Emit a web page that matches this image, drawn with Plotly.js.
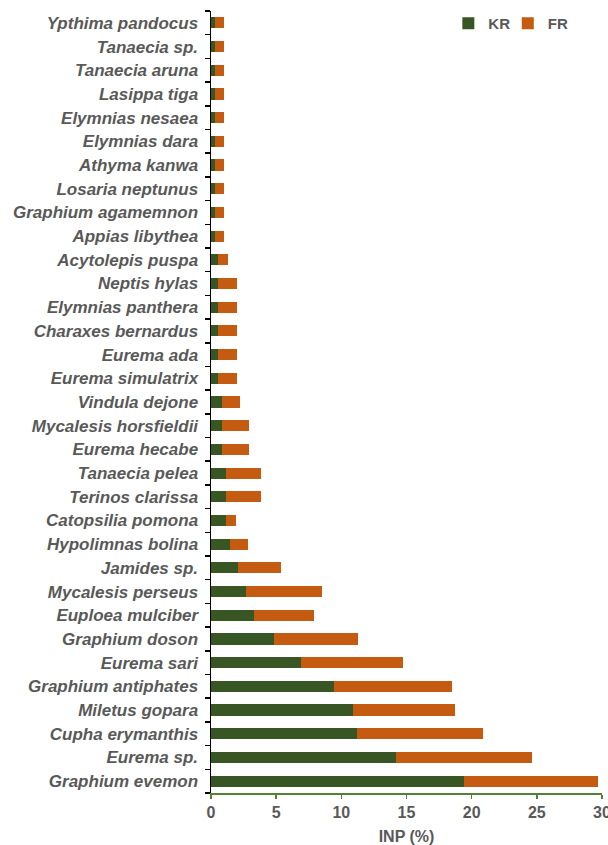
<!DOCTYPE html>
<html>
<head>
<meta charset="utf-8">
<script src="https://cdn.plot.ly/plotly-3.0.1.min.js"></script>
<style>html,body{margin:0;padding:0;background:#fff;}#chart{width:608px;height:845px;}</style>
</head>
<body>
<div id="chart"></div>
<script>
// Categories listed from bottom to top
const species = [
  "Graphium evemon", "Eurema sp.", "Cupha erymanthis", "Miletus gopara",
  "Graphium antiphates", "Eurema sari", "Graphium doson", "Euploea mulciber",
  "Mycalesis perseus", "Jamides sp.", "Hypolimnas bolina", "Catopsilia pomona",
  "Terinos clarissa", "Tanaecia pelea", "Eurema hecabe", "Mycalesis horsfieldii",
  "Vindula dejone", "Eurema simulatrix", "Eurema ada", "Charaxes bernardus",
  "Elymnias panthera", "Neptis hylas", "Acytolepis puspa", "Appias libythea",
  "Graphium agamemnon", "Losaria neptunus", "Athyma kanwa", "Elymnias dara",
  "Elymnias nesaea", "Lasippa tiga", "Tanaecia aruna", "Tanaecia sp.",
  "Ypthima pandocus"
];
const KR = [
  19.4, 14.2, 11.2, 10.9, 9.4, 6.9, 4.8, 3.3, 2.65, 2.05, 1.48, 1.17,
  1.17, 1.17, 0.84, 0.84, 0.84, 0.56, 0.56, 0.56, 0.56, 0.56, 0.56, 0.28,
  0.28, 0.28, 0.28, 0.28, 0.28, 0.28, 0.28, 0.28, 0.28
];
const FR = [
  10.3, 10.4, 9.7, 7.8, 9.1, 7.8, 6.5, 4.6, 5.9, 3.3, 1.36, 0.72,
  2.67, 2.67, 2.05, 2.05, 1.36, 1.41, 1.41, 1.41, 1.41, 1.41, 0.72, 0.69,
  0.69, 0.69, 0.69, 0.69, 0.69, 0.69, 0.69, 0.69, 0.69
];
const seriesNames = ["KR", "FR"];
const xTicks = [0, 5, 10, 15, 20, 25, 30];

const FONT = "Liberation Sans, Arial, sans-serif";
const traces = [
  {type: "bar", orientation: "h", name: seriesNames[0], y: species, x: KR,
   marker: {color: "#375623"}, legend: "legend"},
  {type: "bar", orientation: "h", name: seriesNames[1], y: species, x: FR,
   marker: {color: "#C55A11"}, legend: "legend2"}
];

const legendFont = {family: FONT, size: 15, color: "#595959", weight: "bold"};
const layout = {
  width: 608, height: 845,
  margin: {l: 211, r: 6, t: 11, b: 52, autoexpand: false},
  barmode: "stack",
  bargap: 0.53,
  paper_bgcolor: "#ffffff",
  plot_bgcolor: "#ffffff",
  showlegend: true,
  legend: {
    orientation: "h", x: 0.607, y: 1.005, xanchor: "left", yanchor: "top",
    font: legendFont, itemsizing: "constant", bgcolor: "rgba(0,0,0,0)"
  },
  legend2: {
    orientation: "h", x: 0.759, y: 1.005, xanchor: "left", yanchor: "top",
    font: legendFont, itemsizing: "constant", bgcolor: "rgba(0,0,0,0)"
  },
  xaxis: {
    range: [0, 30], tickvals: xTicks, ticktext: xTicks.map(String),
    automargin: false,
    showgrid: false, zeroline: false,
    showline: true, linecolor: "#548235", linewidth: 2,
    ticks: "outside", ticklen: 4, tickwidth: 1.5, tickcolor: "#548235",
    ticklabeloverflow: "allow", ticklabelstandoff: 0,
    tickfont: {family: FONT, size: 16, color: "#595959", weight: "bold"},
    title: {text: "INP (%)", standoff: 12,
      font: {family: FONT, size: 16, color: "#595959", weight: "bold"}},
    fixedrange: true
  },
  yaxis: {
    type: "category", categoryorder: "array", categoryarray: species,
    automargin: false,
    showgrid: false, zeroline: false,
    showline: true, linecolor: "#000000", linewidth: 1.5,
    ticks: "outside", tickson: "boundaries", ticklen: 5, tickwidth: 1.5, tickcolor: "#000000",
    ticklabelstandoff: 8,
    tickfont: {family: FONT, size: 17, color: "#595959", weight: "bold", style: "italic"},
    fixedrange: true
  }
};

Plotly.newPlot("chart", traces, layout, {displayModeBar: false, staticPlot: true});
</script>
</body>
</html>
